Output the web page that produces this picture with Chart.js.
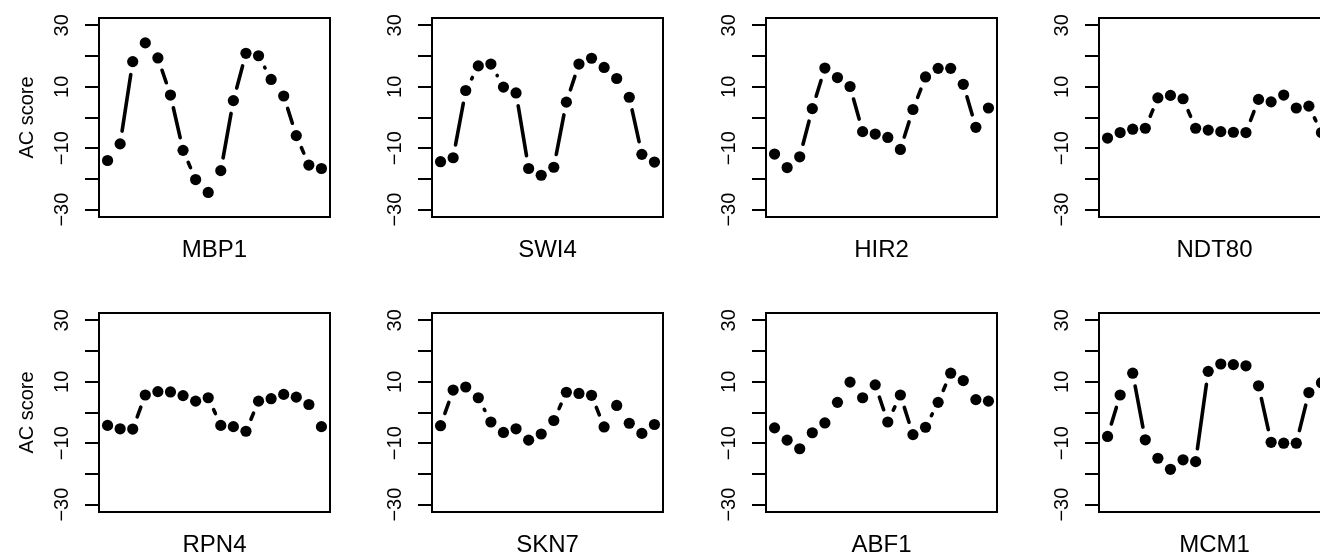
<!DOCTYPE html>
<html>
<head>
<meta charset="utf-8">
<script src="https://cdn.jsdelivr.net/npm/chart.js@4"></script>
<style>
  html, body { margin: 0; padding: 0; background: #fff; overflow: hidden; }
  #panels { position: relative; width: 1320px; height: 554px; overflow: hidden; }
  #panels canvas { position: absolute; }
</style>
</head>
<body>
<div id="panels"></div>
<script>
// time points along the cycle, one per sample
const TIME_POINTS = [1, 2, 3, 4, 5, 6, 7, 8, 9, 10, 11, 12, 13, 14, 15, 16, 17, 18];
const Y_TICKS = [-30, -20, -10, 0, 10, 20, 30];
const Y_LABELED = [-30, -10, 10, 30];
const GENES = ['MBP1', 'SWI4', 'HIR2', 'NDT80', 'RPN4', 'SKN7', 'ABF1', 'MCM1'];

// AC score per time point
const MBP1  = [-14.0, -8.6, 18.2, 24.3, 19.4, 7.3, -10.7, -20.2, -24.4, -17.3, 5.5, 20.9, 20.1, 12.4, 7.0, -5.9, -15.5, -16.6];
const SWI4  = [-14.4, -13.1, 8.8, 16.8, 17.4, 9.9, 8.0, -16.6, -18.8, -16.2, 5.0, 17.4, 19.3, 16.3, 12.7, 6.6, -12.0, -14.5];
const HIR2  = [-11.9, -16.3, -12.8, 2.9, 16.1, 13.0, 10.1, -4.6, -5.4, -6.5, -10.4, 2.6, 13.2, 16.0, 16.0, 10.8, -3.2, 3.1];
const NDT80 = [-6.7, -4.9, -3.8, -3.5, 6.4, 7.2, 6.1, -3.5, -4.1, -4.6, -4.8, -4.9, 5.9, 5.1, 7.3, 3.1, 3.7, -4.9];
const RPN4  = [-4.2, -5.3, -5.4, 5.7, 6.8, 6.7, 5.5, 3.7, 4.8, -4.2, -4.6, -6.1, 3.7, 4.5, 5.9, 5.0, 2.6, -4.6];
const SKN7  = [-4.3, 7.3, 8.3, 4.8, -3.1, -6.5, -5.3, -9.0, -7.0, -2.6, 6.6, 6.2, 5.6, -4.7, 2.3, -3.5, -6.8, -3.9];
const ABF1  = [-5.0, -9.0, -11.8, -6.6, -3.4, 3.3, 9.9, 4.8, 9.0, -3.1, 5.7, -7.2, -4.8, 3.3, 12.8, 10.4, 4.2, 3.7];
const MCM1  = [-7.8, 5.7, 12.8, -8.9, -14.9, -18.5, -15.4, -16.0, 13.4, 15.8, 15.6, 15.2, 8.7, -9.7, -10.0, -10.0, 6.5, 9.7];

const SCORES = { MBP1, SWI4, HIR2, NDT80, RPN4, SKN7, ABF1, MCM1 };

const COL_LEFT = [0, 333, 667, 1000];
const ROW_TOP = [-18, 277];
const GAP = 13;        // blank space left around each point on the connecting line
const FONT = '"Liberation Sans", Arial, Helvetica, sans-serif';

Chart.defaults.font.family = FONT;
Chart.defaults.color = '#000';

const fmt = v => (v < 0 ? '\u2212' + Math.abs(v) : String(v));

// plot box around the chart area
const frame = {
  id: 'frame',
  beforeDatasetsDraw(chart) {
    const { ctx, chartArea: a } = chart;
    ctx.save();
    ctx.strokeStyle = '#000';
    ctx.lineWidth = 2;
    ctx.strokeRect(a.left, a.top, a.right - a.left, a.bottom - a.top);
    ctx.restore();
  }
};

// each segment is drawn as a single dash that stops GAP px short of both points
const segLen = c => Math.hypot(c.p1.x - c.p0.x, c.p1.y - c.p0.y);

const holder = document.getElementById('panels');

GENES.forEach((gene, i) => {
  const col = i % 4, row = Math.floor(i / 4);
  const canvas = document.createElement('canvas');
  canvas.width = 333;
  canvas.height = 295;
  canvas.style.left = COL_LEFT[col] + 'px';
  canvas.style.top = ROW_TOP[row] + 'px';
  holder.appendChild(canvas);

  new Chart(canvas, {
    type: 'line',
    data: {
      labels: TIME_POINTS,
      datasets: [{
        data: SCORES[gene],
        borderColor: '#000',
        borderWidth: 3.6,
        borderCapStyle: 'round',
        pointRadius: 5.6,
        pointBorderWidth: 0,
        pointBackgroundColor: '#000',
        tension: 0,
        segment: {
          borderColor: c => (segLen(c) > 2 * GAP ? '#000' : 'rgba(0,0,0,0)'),
          borderDash: c => {
            const L = segLen(c);
            return L > 2 * GAP ? [L - 2 * GAP, L + 100] : [1, 0];
          },
          borderDashOffset: c => -GAP - c.p0DataIndex * 1e-4
        }
      }]
    },
    options: {
      responsive: false,
      animation: false,
      devicePixelRatio: 1,
      events: [],
      layout: { autoPadding: false, padding: { left: 0, right: 3, top: 36, bottom: 0 } },
      plugins: { legend: { display: false }, tooltip: { enabled: false } },
      scales: {
        x: {
          type: 'linear',
          min: 0.32,
          max: 18.68,
          ticks: { display: false },
          grid: { display: false },
          border: { display: false },
          afterFit: s => { s.height = 60; },
          title: {
            display: true,
            text: gene,
            color: '#000',
            font: { size: 24 },
            padding: { top: 0, bottom: 12 }
          }
        },
        y: {
          type: 'linear',
          min: -32.4,
          max: 32.4,
          afterBuildTicks: s => { s.ticks = Y_TICKS.map(v => ({ value: v })); },
          afterFit: s => { s.width = 99; },
          ticks: {
            autoSkip: false,
            minRotation: 90,
            maxRotation: 90,
            crossAlign: 'center',
            padding: 6,
            color: '#000',
            font: { size: 20 },
            callback: v => (Y_LABELED.includes(v) ? fmt(v) : '')
          },
          grid: { drawOnChartArea: false, drawTicks: true, tickLength: 14, color: '#000', lineWidth: 2 },
          border: { display: false },
          title: {
            display: col === 0,
            text: 'AC score',
            color: '#000',
            font: { size: 20 },
            padding: { top: 15, bottom: 0 }
          }
        }
      }
    },
    plugins: [frame]
  });
});
</script>
</body>
</html>
